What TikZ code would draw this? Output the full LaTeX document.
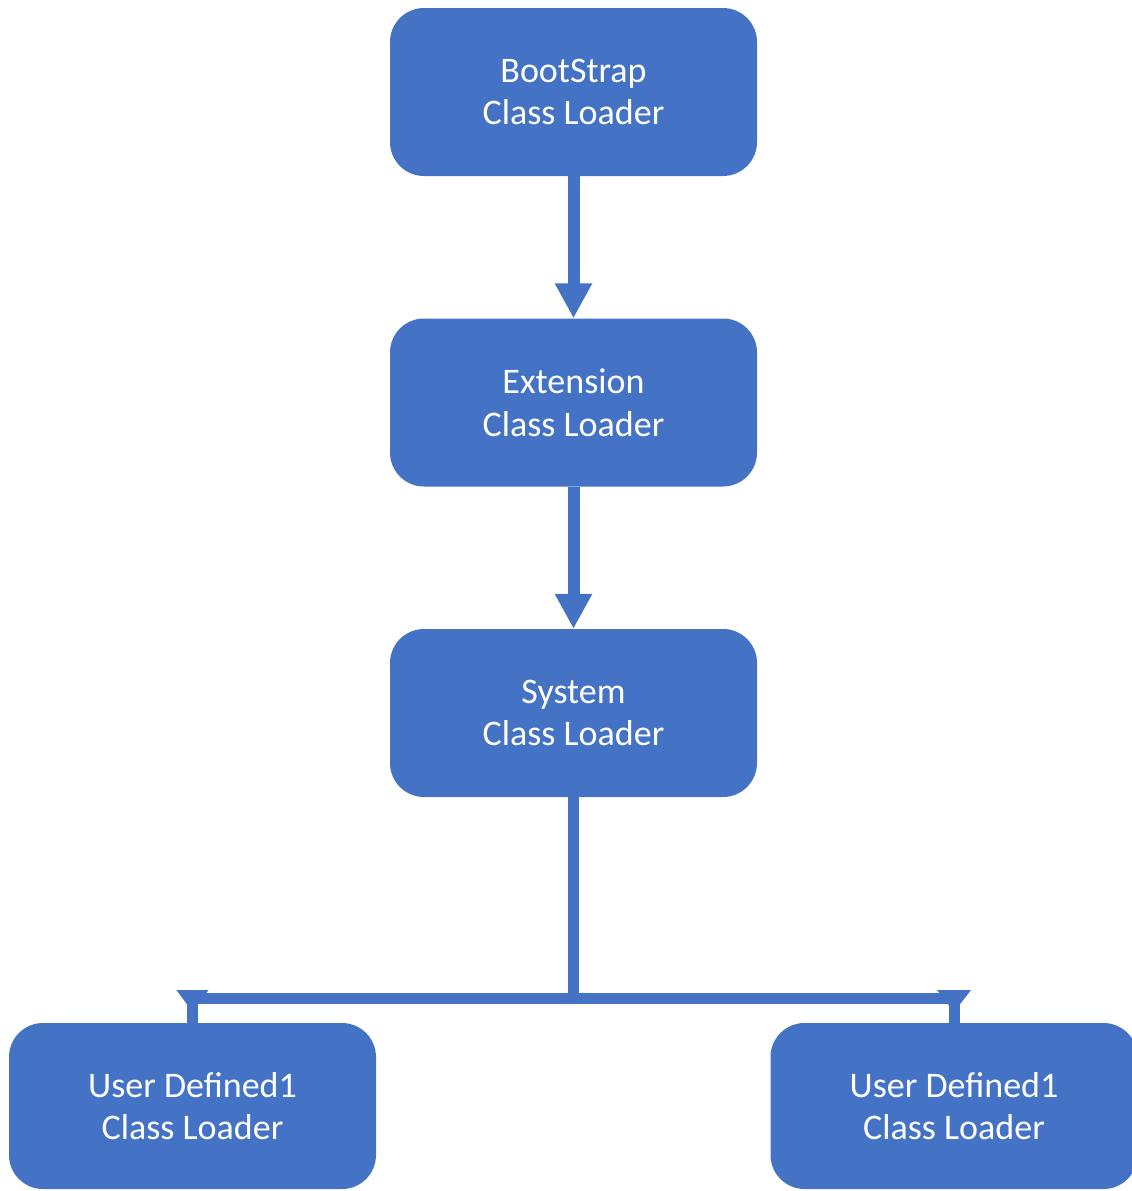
\documentclass[tikz,border=0pt]{standalone}
\usepackage{fontspec}
\setmainfont{Carlito}
\usetikzlibrary{arrows.meta,calc}
\definecolor{obl}{HTML}{4472C4}
\begin{document}
\begin{tikzpicture}[x=1pt,y=-1pt,
  box/.style={rectangle, rounded corners=34pt, fill=obl, draw=none, text=white,
    minimum width=367pt, minimum height=168pt, align=center, inner sep=0pt,
    font=\fontsize{36}{42.5}\selectfont},
  conn/.style={draw=obl, line width=12pt, -{Triangle[width=35pt,length=35pt]}},
  bus/.style={draw=obl, line width=11pt, line join=miter}]
\useasboundingbox (0,0) rectangle (1132,1191);
\node[box] (boot) at (573.5,92) {BootStrap\\Class Loader};
\node[box] (ext) at (573.5,402.5) {Extension\\Class Loader};
\node[box] (sys) at (573.5,713) {System\\Class Loader};
\node[box, minimum height=166pt] (ul) at (192.5,1106) {User Defined1\\Class Loader};
\node[box, minimum height=166pt] (ur) at (954,1106) {User Defined1\\Class Loader};
\draw[conn] (boot.south) -- (ext.north);
\draw[conn] (ext.south) -- (sys.north);
\coordinate (j) at (573.5,998);
\coordinate (cl) at (ul.north |- j);
\coordinate (cr) at (ur.north |- j);
\draw[bus] (sys.south) -- (j);
\draw[bus] (cl) -- (cr);
\draw[bus] (cl) -- (ul.north);
\draw[bus] (cr) -- (ur.north);
\fill[obl] ($(cl)+(-16,-8)$) -- ($(cl)+(16,-8)$) -- ($(cl)+(0,14)$) -- cycle;
\fill[obl] ($(cr)+(-17,-8)$) -- ($(cr)+(17,-8)$) -- ($(cr)+(0,14)$) -- cycle;
\end{tikzpicture}
\end{document}
